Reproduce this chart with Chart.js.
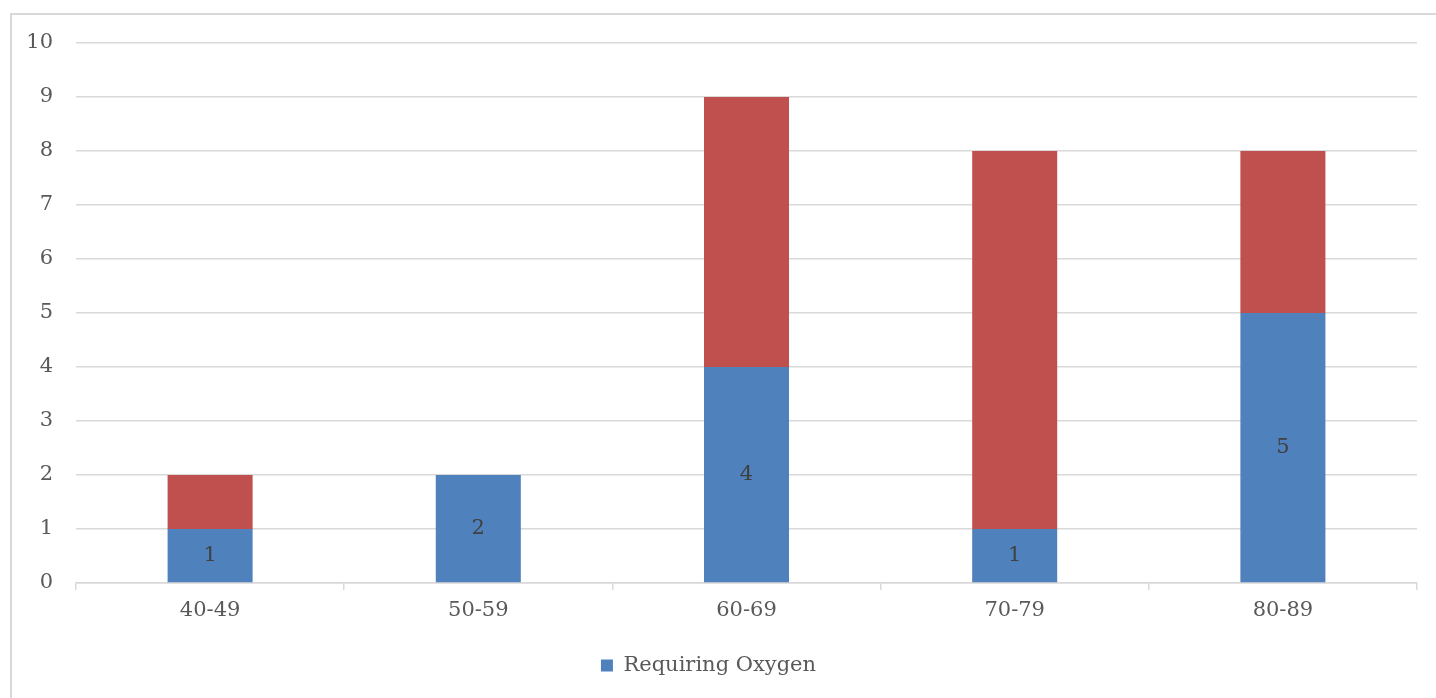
<!DOCTYPE html>
<html>
<head>
<meta charset="utf-8">
<script src="https://cdn.jsdelivr.net/npm/chart.js@4"></script>
<style>
  html, body { margin: 0; padding: 0; background: #fff; overflow: hidden; }
  #frame { position: absolute; left: 10px; top: 13px; width: 1440px; height: 700px; border: 2px solid #d9d9d9; }
  #wrap { position: absolute; left: 0; top: 0; width: 1436px; height: 698px; }
</style>
</head>
<body>
<div id="frame"></div>
<div id="wrap"><canvas id="chart"></canvas></div>
<script>
const ageGroups = ['40-49', '50-59', '60-69', '70-79', '80-89'];
const requiringOxygen = [1, 2, 4, 1, 5];
const notRequiringOxygen = [1, 0, 5, 7, 3];
const yTicks = [0, 10, 1];

const serif = '"DejaVu Serif", "Liberation Serif", serif';

// labels in the middle of the blue segments
const segmentLabels = {
    id: 'segmentLabels',
    afterDatasetsDraw(chart) {
        const ctx = chart.ctx;
        const meta = chart.getDatasetMeta(0);
        ctx.save();
        ctx.font = '21px ' + serif;
        ctx.fillStyle = '#404040';
        ctx.textAlign = 'center';
        ctx.textBaseline = 'middle';
        meta.data.forEach(function (bar, i) {
            const v = requiringOxygen[i];
            if (!v) return;
            ctx.fillText(String(v), bar.x, (bar.y + bar.base) / 2);
        });
        ctx.restore();
    }
};

new Chart(document.getElementById('chart'), {
    type: 'bar',
    data: {
        labels: ageGroups,
        datasets: [{
            label: 'Requiring Oxygen',
            data: requiringOxygen,
            backgroundColor: '#4f81bd',
            barPercentage: 0.317,
            categoryPercentage: 1
        }, {
            label: 'Not Requiring Oxygen',
            data: notRequiringOxygen,
            backgroundColor: '#c0504d',
            barPercentage: 0.317,
            categoryPercentage: 1
        }]
    },
    options: {
        responsive: true,
        maintainAspectRatio: false,
        animation: false,
        layout: {padding: {top: 43, right: 19, bottom: 12, left: 0}},
        plugins: {
            tooltip: {enabled: false},
            legend: {
                position: 'bottom',
                labels: {
                    filter: function (item) { return item.datasetIndex === 0; },
                    boxWidth: 12,
                    boxHeight: 12,
                    font: {family: serif, size: 21},
                    color: '#595959',
                    padding: 10
                }
            }
        },
        scales: {
            x: {
                stacked: true,
                offset: true,
                grid: {
                    offset: true,
                    drawOnChartArea: false,
                    drawTicks: true,
                    tickLength: 7,
                    color: '#d9d9d9',
                    lineWidth: 1.5
                },
                border: {color: '#d9d9d9', width: 1.5},
                ticks: {font: {family: serif, size: 21}, color: '#595959', padding: 8},
                afterFit: function (scale) { scale.height = 62; }
            },
            y: {
                stacked: true,
                min: yTicks[0],
                max: yTicks[1],
                ticks: {stepSize: yTicks[2], font: {family: serif, size: 21}, color: '#595959', padding: 23},
                grid: {drawTicks: false, color: '#d9d9d9', lineWidth: 1.5},
                border: {display: false},
                afterFit: function (scale) { scale.width = 76; }
            }
        }
    },
    plugins: [segmentLabels]
});
</script>
</body>
</html>
